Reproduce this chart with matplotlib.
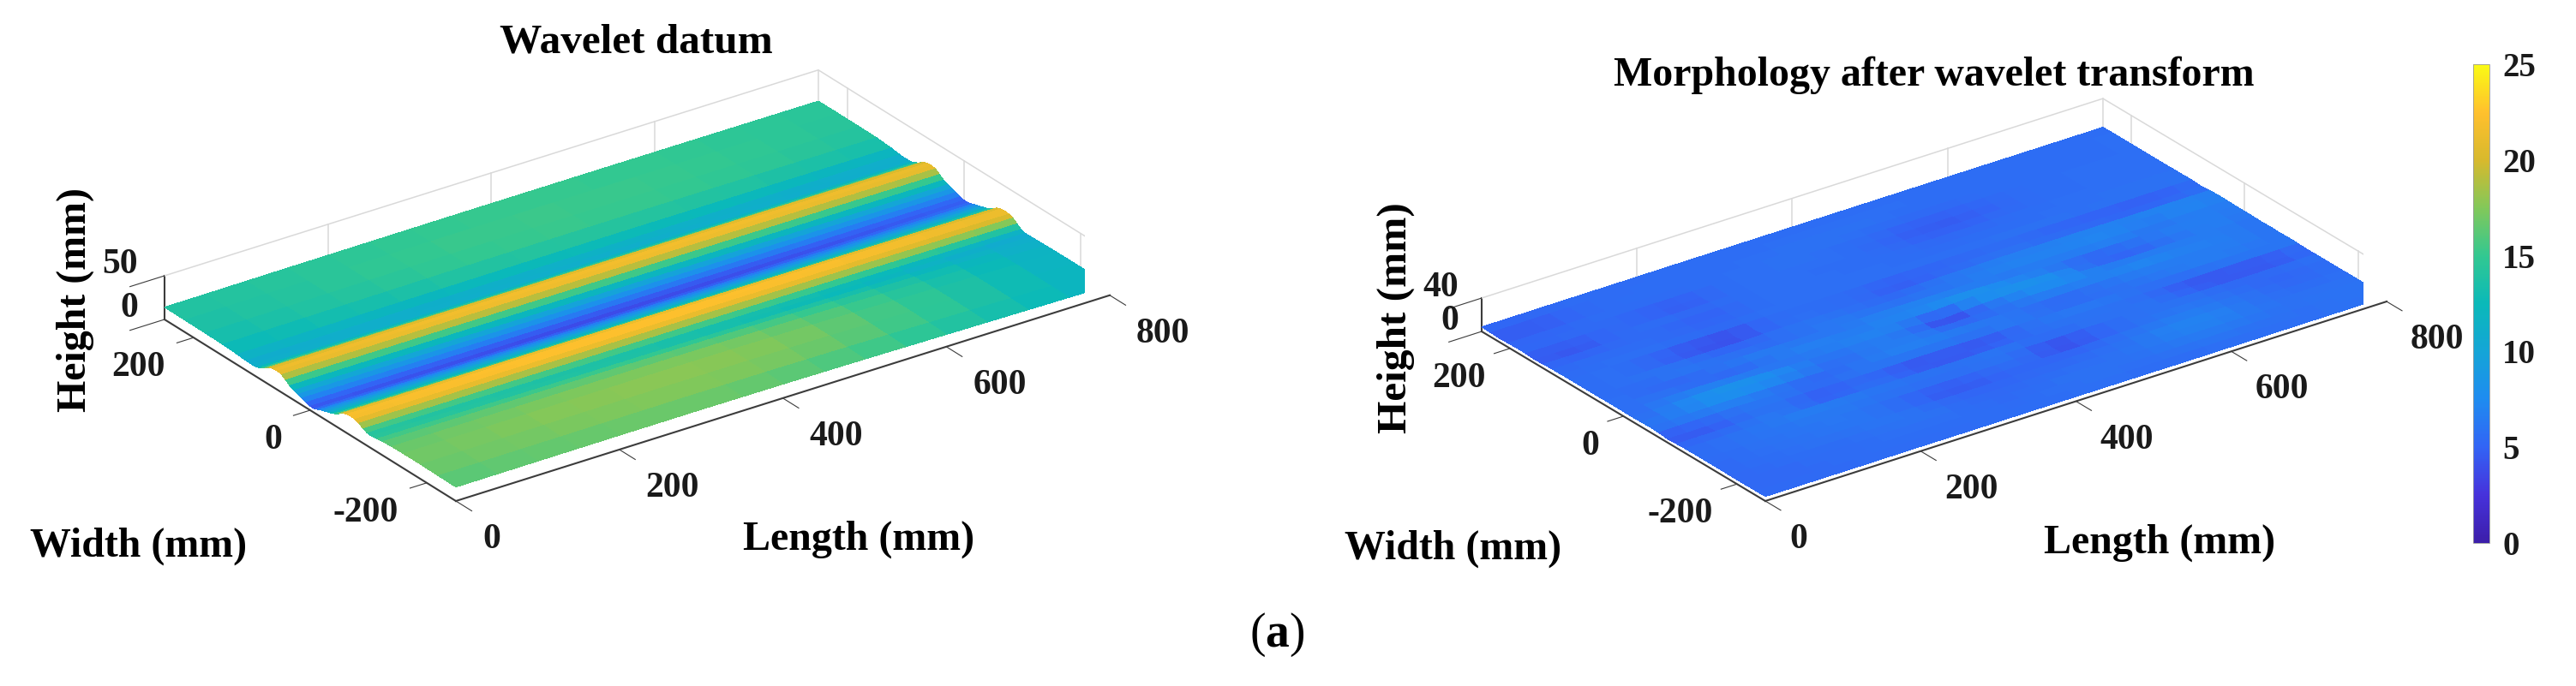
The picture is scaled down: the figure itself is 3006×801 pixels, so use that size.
import numpy as np
import matplotlib
matplotlib.use("Agg")
import matplotlib.pyplot as plt
from matplotlib.colors import LinearSegmentedColormap
from matplotlib.cm import ScalarMappable
from matplotlib.colors import Normalize
from mpl_toolkits.mplot3d import proj3d

FW, FH = 3006, 801
plt.rcParams['font.family'] = ['Liberation Serif', 'DejaVu Serif']
plt.rcParams['font.weight'] = 'bold'
plt.rcParams['mathtext.fontset'] = 'custom'
plt.rcParams['mathtext.bf'] = 'Liberation Serif:bold'
plt.rcParams['mathtext.rm'] = 'Liberation Serif'

# ------------------------------------------------------------ data
cbar_ticks = [0, 5, 10, 15, 20, 25]
length_ticks = [0, 200, 400, 600, 800]
width_ticks = [-200, 0, 200]
left_height_ticks = [0, 50]
right_height_ticks = [0, 40]

cmap_colors = ['#3c1eaa', '#4632dc', '#3264f5', '#1e8cf0', '#14a5d7', '#0ab9b9',
               '#32c891', '#82c85a', '#d7b92d', '#ffc02d', '#fafa14']

left_length_mm = [0, 50, 100, 150, 200, 250, 300, 350, 400, 450, 500, 550, 600, 650, 700, 750, 800]
left_width_mm = [-250, -220, -190, -160, -140, -125, -115, -105, -98, -91, -84, -77, -70, -63, -56,
                 -49, -42, -35, -28, -21, -14, -7, 0, 7, 14, 21, 28, 35, 42, 49, 56, 63, 70, 77, 84,
                 91, 100, 110, 125, 150, 180, 215, 250]
# one row per length station, one value per width station
left_height = [
    [16.0,16.4,16.8,16.8,16.5,16.0,15.0,14.0, 14.5,16.5,20.0,21.6,22.2,21.7,20.0,16.4,13.5, 11.5,10.0,8.5,6.5,4.5,4.5,6.0,8.0,9.5,11.0, 13.5,17.0,20.4,21.6,21.2,19.8,16.3,13.5,11.5, 10.8,11.0,12.0,13.0,13.5,13.8,14.0],
    [16.1,16.6,17.0,17.0,16.6,16.0,14.9,13.8, 14.4,16.6,20.1,21.7,22.3,21.8,20.1,16.4,13.4, 11.4,9.9,8.3,6.3,4.3,4.3,5.9,7.9,9.4,11.0, 13.5,17.1,20.5,21.7,21.3,19.8,16.2,13.4,11.4, 10.8,11.1,12.2,13.3,13.7,14.0,14.1],
    [16.2,16.8,17.2,17.2,16.8,16.0,14.8,13.6, 14.3,16.7,20.2,21.8,22.4,21.9,20.2,16.4,13.4, 11.4,9.8,8.2,6.2,4.2,4.2,5.8,7.8,9.4,11.0, 13.6,17.2,20.6,21.7,21.3,19.8,16.1,13.2,11.3, 10.8,11.2,12.4,13.6,14.0,14.2,14.3],
    [16.3,16.9,17.4,17.4,16.9,16.0,14.7,13.5, 14.2,16.8,20.3,21.9,22.5,22.0,20.3,16.4,13.3, 11.3,9.7,8.1,6.1,4.1,4.1,5.7,7.7,9.3,10.9, 13.6,17.2,20.7,21.8,21.4,19.8,16.0,13.1,11.2, 10.9,11.3,12.6,13.9,14.3,14.4,14.5],
    [16.4,17.0,17.6,17.6,17.0,16.0,14.6,13.4, 14.2,16.9,20.4,22.0,22.6,22.1,20.4,16.4,13.2, 11.2,9.6,8.0,6.0,4.0,4.0,5.6,7.6,9.2,10.9, 13.6,17.3,20.8,21.8,21.4,19.8,16.0,13.1,11.2, 10.9,11.4,12.8,14.2,14.6,14.7,14.6],
    [16.4,17.1,17.7,17.7,17.0,15.9,14.5,13.3, 14.1,16.9,20.4,22.0,22.6,22.1,20.4,16.4,13.2, 11.2,9.5,7.9,5.9,3.9,3.9,5.5,7.5,9.1,10.8, 13.6,17.3,20.9,21.9,21.5,19.8,15.9,13.0,11.1, 11.0,11.5,13.0,14.5,14.9,14.9,14.7],
    [16.4,17.2,17.8,17.8,17.0,15.8,14.4,13.2, 14.1,16.9,20.4,22.0,22.6,22.1,20.4,16.3,13.1, 11.1,9.4,7.8,5.8,3.8,3.8,5.4,7.4,9.0,10.8, 13.5,17.3,20.9,21.9,21.5,19.8,15.9,13.0,11.1, 11.0,11.6,13.2,14.8,15.1,15.1,14.8],
    [16.2,17.1,17.7,17.7,16.9,15.6,14.2,13.0, 14.0,16.8,20.4,22.0,22.6,22.1,20.4,16.3,13.0, 11.0,9.3,7.7,5.7,3.8,3.8,5.4,7.3,8.9,10.7, 13.5,17.3,20.9,21.9,21.5,19.8,15.9,13.0,11.1, 11.0,11.7,13.3,14.9,15.2,15.2,14.9],
    [16.0,17.0,17.6,17.6,16.8,15.4,14.0,12.9, 14.0,16.8,20.4,22.0,22.6,22.1,20.4,16.2,13.0, 11.0,9.3,7.7,5.7,3.8,3.8,5.3,7.3,8.9,10.7, 13.4,17.3,20.9,21.9,21.5,19.8,15.9,13.0,11.1, 11.1,11.8,13.4,15.0,15.3,15.2,14.9],
    [15.6,16.6,17.2,17.2,16.4,15.1,13.7,12.7, 13.9,16.7,20.3,22.0,22.6,22.0,20.3,16.2,12.9, 11.0,9.2,7.6,5.7,3.8,3.8,5.3,7.3,8.9,10.7, 13.4,17.3,20.9,21.9,21.5,19.8,15.9,13.0,11.1, 11.1,11.8,13.4,15.0,15.3,15.2,14.9],
    [15.2,16.2,16.8,16.8,16.0,14.8,13.4,12.5, 13.8,16.7,20.3,21.9,22.5,22.0,20.3,16.1,12.9, 10.9,9.2,7.6,5.7,3.9,3.9,5.3,7.3,8.9,10.7, 13.4,17.2,20.9,21.9,21.5,19.8,15.9,13.0,11.1, 11.1,11.8,13.4,15.0,15.2,15.2,14.9],
    [14.6,15.5,16.0,15.9,15.3,14.2,13.0,12.2, 13.6,16.6,20.2,21.8,22.4,21.9,20.2,16.0,12.8, 10.9,9.2,7.6,5.7,4.0,4.0,5.3,7.3,8.9,10.7, 13.4,17.2,20.8,21.8,21.5,19.8,15.9,13.0,11.1, 11.0,11.7,13.3,14.9,15.1,15.1,14.9],
    [14.0,14.8,15.2,15.0,14.6,13.6,12.6,11.9, 13.4,16.5,20.1,21.7,22.3,21.8,20.1,15.9,12.8, 10.9,9.2,7.6,5.8,4.1,4.1,5.4,7.4,9.0,10.8, 13.4,17.2,20.8,21.8,21.4,19.8,15.9,13.0,11.1, 11.0,11.6,13.2,14.8,15.0,15.0,14.8],
    [13.4,14.0,14.3,14.1,13.7,12.9,12.1,11.5, 13.1,16.3,19.9,21.5,22.1,21.6,19.9,15.7,12.7, 10.9,9.2,7.7,5.9,4.2,4.2,5.5,7.5,9.1,10.8, 13.4,17.1,20.7,21.7,21.3,19.7,15.8,13.0,11.1, 11.0,11.5,13.1,14.6,14.9,14.9,14.7],
    [12.8,13.2,13.4,13.2,12.8,12.2,11.6,11.2, 12.8,16.1,19.7,21.3,21.9,21.4,19.7,15.5,12.7, 10.9,9.3,7.8,6.0,4.4,4.4,5.6,7.6,9.2,10.9, 13.4,17.0,20.6,21.6,21.2,19.6,15.8,13.0,11.1, 10.9,11.4,12.9,14.4,14.7,14.7,14.6],
    [12.2,12.4,12.4,12.3,12.0,11.5,11.1,10.9, 12.5,15.8,19.5,21.1,21.7,21.2,19.5,15.3,12.6, 10.9,9.3,7.9,6.1,4.6,4.6,5.7,7.7,9.3,10.9, 13.4,16.9,20.5,21.5,21.1,19.5,15.7,13.0,11.1, 10.9,11.3,12.8,14.2,14.5,14.6,14.5],
    [11.6,11.6,11.5,11.4,11.2,10.9,10.7,10.6, 12.2,15.6,19.3,20.9,21.5,21.0,19.3,15.2,12.6, 10.9,9.4,8.0,6.2,4.8,4.8,5.9,7.9,9.4,11.0, 13.3,16.8,20.4,21.4,21.0,19.4,15.6,13.0,11.1, 10.8,11.2,12.6,14.0,14.3,14.4,14.4],
]

right_length_mm = [0, 25, 50, 75, 100, 125, 150, 175, 200, 225, 250, 275, 300, 325, 350, 375, 400,
                   425, 450, 475, 500, 525, 550, 575, 600, 625, 650, 675, 700, 725, 750, 775, 800]
right_width_mm = [-250, -234, -219, -203, -188, -172, -156, -141, -125, -109, -94, -78, -62, -47, -31, -16,
                  0, 16, 31, 47, 62, 78, 94, 109, 125, 141, 156, 172, 188, 203, 219, 234, 250]
# one row per width station, one value per length station
right_height = [
    [5.5,5.4,5.4,5.4,5.4,5.4,5.5,5.5,5.6,5.5,5.5,5.5,5.5,5.6,5.6,5.6,5.7,5.6,5.6,5.6,5.6,5.5,5.5,5.5,5.6,5.6,5.7,5.7,5.8,5.8,5.8,5.8,5.9],
    [5.4,5.4,5.3,5.4,5.4,5.5,5.6,5.5,5.5,5.5,5.6,5.6,5.7,5.6,5.6,5.6,5.7,5.7,5.8,5.7,5.6,5.6,5.7,5.8,5.9,5.8,5.8,5.7,5.7,5.7,5.8,5.9,6.0],
    [5.3,5.3,5.2,5.3,5.5,5.5,5.6,5.6,5.7,5.6,5.6,5.6,5.6,5.5,5.5,5.6,5.8,5.8,5.9,5.8,5.7,5.8,6.0,6.1,6.2,6.1,6.0,5.9,5.8,5.8,5.9,5.9,6.0],
    [5.2,5.3,5.4,5.5,5.6,5.5,5.5,5.7,5.8,5.9,5.9,5.7,5.5,5.4,5.4,5.5,5.7,5.8,5.8,5.9,5.9,6.1,6.4,6.6,6.8,6.6,6.3,6.1,5.9,5.9,5.9,5.9,5.9],
    [5.3,5.4,5.5,5.6,5.7,5.7,5.8,5.9,6.0,6.0,5.9,5.6,5.4,5.3,5.3,5.4,5.5,5.5,5.6,5.7,5.9,6.2,6.6,6.9,7.0,6.9,6.6,6.2,5.8,5.8,5.8,5.8,5.8],
    [5.4,5.5,5.6,5.7,5.8,5.9,6.0,6.1,6.2,6.0,5.8,5.3,5.0,5.0,5.0,5.1,5.2,5.3,5.4,5.5,5.7,6.0,6.4,6.7,6.8,6.7,6.4,6.0,5.7,5.5,5.4,5.6,5.7],
    [5.4,5.5,5.7,5.8,5.9,6.0,6.2,6.1,6.0,5.6,5.2,4.6,4.1,4.3,4.8,5.2,5.4,5.1,4.8,5.0,5.4,5.7,6.0,6.2,6.4,6.4,6.2,5.9,5.6,5.3,5.1,5.4,5.6],
    [5.5,5.6,5.8,5.9,6.0,6.1,6.3,6.2,6.1,5.9,5.6,5.5,5.4,5.4,5.5,5.7,5.8,4.8,3.7,3.6,4.4,5.1,5.6,5.8,6.0,5.9,5.8,5.5,5.3,5.2,5.2,5.5,5.7],
    [5.5,5.7,5.9,6.0,6.2,6.3,6.4,6.4,6.3,6.1,6.0,6.0,6.0,6.0,6.1,6.1,6.0,5.5,5.0,5.2,5.6,5.8,6.0,6.0,6.0,5.8,5.6,5.5,5.4,5.5,5.6,5.7,5.8],
    [5.3,5.5,5.7,6.0,6.3,6.5,6.6,6.5,6.4,6.3,6.2,6.0,5.8,5.7,5.6,5.8,6.0,6.0,5.9,5.9,5.9,5.8,5.7,5.7,5.8,5.0,4.2,3.6,3.6,3.5,3.6,3.9,5.4],
    [5.0,5.0,5.0,5.5,5.9,6.0,5.0,3.8,3.6,4.6,5.2,4.6,3.7,3.4,3.4,3.5,3.6,4.4,5.2,5.7,6.0,6.0,6.0,5.8,5.4,5.2,5.0,5.3,5.6,5.7,5.8,5.9,6.0],
    [4.3,4.2,4.4,5.0,5.7,6.2,6.6,6.3,6.0,5.8,5.6,5.6,5.5,5.7,5.9,5.7,5.4,5.7,6.0,6.2,6.4,6.4,6.4,6.3,6.2,6.2,6.3,6.4,6.4,6.4,6.4,6.3,6.2],
    [5.6,5.8,6.0,6.2,6.4,6.0,5.6,5.1,4.8,5.5,6.2,6.5,6.6,6.5,6.4,6.3,6.2,6.4,6.6,5.8,5.0,4.8,4.8,5.2,5.6,6.0,6.4,6.5,6.6,6.4,6.2,6.0,5.8],
    [6.0,6.3,6.6,6.9,7.2,7.0,6.8,6.4,6.0,5.5,5.2,6.0,6.6,6.9,7.0,6.7,6.4,6.1,5.8,5.9,6.0,6.3,6.6,6.8,7.0,6.8,6.6,6.5,6.4,6.6,6.8,6.5,6.2],
    [5.7,6.3,7.0,7.9,8.6,8.4,8.0,7.6,7.2,6.4,5.8,6.1,6.4,6.2,6.0,5.0,4.0,4.8,5.6,6.3,7.0,6.8,6.6,6.6,6.6,7.2,7.6,7.4,7.0,6.6,6.2,6.0,5.8],
    [5.4,6.0,6.6,7.1,7.6,7.8,7.8,7.2,6.6,6.3,6.0,6.4,6.8,6.6,6.4,5.0,3.4,4.8,6.2,7.0,7.8,8.1,8.2,7.4,6.4,5.8,5.4,5.7,6.0,6.4,6.8,6.5,6.2],
    [5.6,5.9,6.2,6.2,6.2,5.7,5.2,5.4,5.6,6.3,7.0,7.0,7.0,7.0,7.0,6.8,6.6,7.6,8.8,8.6,8.2,7.6,7.0,5.6,4.4,4.5,4.8,5.4,6.0,6.3,6.6,6.4,6.2],
    [5.8,5.7,5.6,5.2,4.8,5.2,5.6,6.2,6.8,6.7,6.6,6.3,6.0,6.5,7.0,7.3,7.6,7.6,7.4,6.8,6.2,6.2,6.2,6.3,6.4,6.5,6.6,6.7,6.8,6.8,6.8,6.6,6.4],
    [5.7,5.5,5.4,5.6,5.8,6.1,6.4,6.3,6.2,6.0,5.8,6.1,6.4,6.5,6.6,6.4,6.2,6.1,6.0,6.3,6.6,6.7,6.8,6.7,6.6,6.7,6.8,6.2,5.6,6.0,6.4,6.5,6.6],
    [5.6,5.6,5.6,5.9,6.2,5.8,5.4,5.2,5.0,5.4,5.8,6.0,6.2,5.9,5.6,5.6,5.6,6.0,6.4,6.6,6.8,6.9,7.0,7.1,7.3,7.4,7.4,7.4,7.4,7.5,7.6,7.3,6.8],
    [5.6,5.7,5.8,5.8,5.7,5.5,5.3,5.1,5.2,5.6,6.0,5.9,5.8,5.7,5.6,5.4,5.2,5.5,5.8,6.0,6.2,6.3,6.4,6.4,6.4,6.4,6.4,6.3,6.2,6.3,6.4,6.3,6.2],
    [5.6,5.7,5.8,5.2,4.6,3.9,3.4,3.2,3.2,4.2,5.2,5.4,5.6,5.5,5.4,4.8,4.2,4.4,4.6,4.8,5.0,5.2,5.4,5.0,4.7,4.5,4.4,4.3,4.2,4.1,4.0,4.4,5.4],
    [5.6,5.6,5.7,5.8,5.8,5.7,5.6,5.4,5.2,5.4,5.6,5.7,5.7,5.7,5.6,5.7,5.8,5.8,5.8,5.8,5.8,5.8,5.8,5.9,5.9,5.9,5.8,5.8,5.8,5.8,5.9,5.9,6.0],
    [5.5,5.5,5.6,5.6,5.6,5.6,5.6,5.6,5.6,5.6,5.7,5.7,5.7,5.7,5.8,5.7,5.7,5.7,5.7,5.6,5.6,5.6,5.7,5.7,5.7,5.7,5.7,5.7,5.8,5.8,5.8,5.8,5.9],
    [5.4,5.4,5.4,5.4,5.5,5.4,5.2,4.8,4.6,5.0,5.4,5.6,5.7,5.7,5.7,5.7,5.7,5.6,5.6,5.5,5.5,5.5,5.6,5.6,5.6,5.6,5.7,5.7,5.7,5.8,5.8,5.8,5.8],
    [5.0,4.8,4.6,5.0,5.4,5.5,5.6,5.4,5.2,5.4,5.6,5.7,5.7,5.7,5.7,5.6,5.6,5.6,5.5,5.3,5.2,5.2,5.2,5.4,5.5,5.6,5.6,5.7,5.7,5.7,5.7,5.7,5.7],
    [4.4,4.2,4.2,4.7,5.3,5.5,5.6,5.4,5.2,5.4,5.6,5.7,5.7,5.7,5.7,5.6,5.6,5.5,5.3,5.0,4.8,4.7,4.7,5.0,5.2,5.4,5.6,5.6,5.6,5.7,5.7,5.7,5.7],
    [5.2,5.2,5.2,5.3,5.4,5.1,4.8,4.4,4.4,4.9,5.4,5.6,5.7,5.8,5.8,5.8,5.7,5.5,5.3,4.9,4.7,4.6,4.6,4.9,5.1,5.4,5.6,5.7,5.7,5.7,5.7,5.7,5.7],
    [5.3,5.3,5.3,5.4,5.5,5.5,5.4,5.4,5.4,5.5,5.6,5.7,5.7,5.8,5.8,5.8,5.7,5.6,5.6,5.4,5.2,5.2,5.2,5.4,5.5,5.6,5.6,5.6,5.6,5.7,5.7,5.7,5.7],
    [5.0,5.0,5.0,5.2,5.4,5.5,5.6,5.6,5.6,5.6,5.6,5.7,5.7,5.8,5.8,5.9,5.9,5.9,5.8,5.7,5.6,5.6,5.6,5.6,5.6,5.6,5.6,5.6,5.6,5.6,5.6,5.6,5.7],
    [4.5,4.4,4.4,4.7,5.2,5.4,5.5,5.6,5.6,5.6,5.6,5.6,5.6,5.7,5.7,5.8,5.8,5.8,5.8,5.8,5.7,5.7,5.7,5.7,5.7,5.7,5.6,5.6,5.6,5.6,5.7,5.7,5.7],
    [5.0,5.0,5.0,5.2,5.4,5.5,5.5,5.6,5.6,5.6,5.6,5.6,5.6,5.6,5.6,5.7,5.7,5.7,5.7,5.7,5.7,5.6,5.6,5.6,5.6,5.6,5.6,5.6,5.6,5.6,5.6,5.6,5.7],
    [5.4,5.4,5.4,5.5,5.5,5.5,5.5,5.5,5.5,5.6,5.6,5.6,5.6,5.6,5.6,5.6,5.6,5.6,5.6,5.6,5.6,5.6,5.6,5.6,5.6,5.6,5.6,5.6,5.6,5.6,5.6,5.6,5.6],
]

TICK_FS = 30
LABEL_FS = 34.5
CBAR_FS = 28
AXIS_COLOR = '#3c3c3c'
GRID_COLOR = '#d9d9d9'

cmap = LinearSegmentedColormap.from_list('parula_like', cmap_colors)
fig = plt.figure(figsize=(FW / 100, FH / 100), dpi=100, facecolor='white')


def fig_text(px, py, s, size, **kw):
    return fig.text(px / FW, 1 - py / FH, s, fontsize=size, ha=kw.pop('ha', 'center'),
                    va=kw.pop('va', 'center'), **kw)


def surface_panel(length, width, height, elev, azim, box, zmax, zticks, front_px, right_px,
                  xf, yf, zf, xlab_off, ylab_off, zlab_off):
    ax = fig.add_axes([0, 0, 0.5, 0.5], projection='3d', proj_type='ortho')
    ax.set_facecolor('none')
    ax.computed_zorder = False
    ax.view_init(elev=elev, azim=azim)
    ax.set_box_aspect(box)
    ax.set_xlim(0, 800, view_margin=0)
    ax.set_ylim(-250, 250, view_margin=0)
    ax.set_zlim(0, zmax, view_margin=0)

    # place the 3D box so that its floor edge lands on the pixels measured in the reference
    M = ax.get_proj()
    fx, fy, _ = proj3d.proj_transform(0, -250, 0, M)
    rx, ry, _ = proj3d.proj_transform(800, -250, 0, M)
    S = 1000.0
    ax.set_position([0, 0, S / FW, S / FH])
    a = ax.transData.transform([(fx, fy), (rx, ry)])
    S *= (right_px[0] - front_px[0]) / (a[1, 0] - a[0, 0])
    ax.set_position([0, 0, S / FW, S / FH])
    a = ax.transData.transform([(fx, fy)])[0]
    ax.set_position([(front_px[0] - a[0]) / FW, ((FH - front_px[1]) - a[1]) / FH, S / FW, S / FH])

    ax.grid(False)
    ax.xaxis.set_pane_color((1, 1, 1, 0))
    ax.yaxis.set_pane_color((1, 1, 1, 0))
    ax.zaxis.set_pane_color((1, 1, 1, 0))
    for axis, f in ((ax.xaxis, xf), (ax.yaxis, yf), (ax.zaxis, zf)):
        axis.pane.set_edgecolor('none')
        axis.line.set_color(AXIS_COLOR)
        axis.line.set_linewidth(1.5)
        axis._axinfo['tick']['inward_factor'] = f
        axis._axinfo['tick']['outward_factor'] = 0.0
    ax.set_xticks(length_ticks, labels=[''] * len(length_ticks))
    ax.set_yticks(width_ticks, labels=[''] * len(width_ticks))
    ax.set_zticks(zticks, labels=[''] * len(zticks))
    ax.tick_params(axis='both', color=AXIS_COLOR, width=1.5)
    ax.tick_params(axis='z', color=AXIS_COLOR, width=1.5)
    ax.zaxis.set_ticks_position('upper')

    # light grid on the two back walls only, as in the reference
    for t in length_ticks[1:]:
        ax.plot([t, t], [250, 250], [0, zmax], color=GRID_COLOR, lw=1.1, zorder=0)
    for t in width_ticks:
        ax.plot([800, 800], [t, t], [0, zmax], color=GRID_COLOR, lw=1.1, zorder=0)
    ax.plot([0, 800, 800], [250, 250, -250], [zmax, zmax, zmax], color=GRID_COLOR, lw=1.1, zorder=0)

    X, Y = np.meshgrid(length, width)
    ax.plot_surface(X, Y, height, cmap=cmap, vmin=0, vmax=25, rstride=1, cstride=1,
                    linewidth=0, antialiased=False, shade=False, zorder=1)

    def tick_label(x, y, z, s, dx, dy, ha):
        px, py, _ = proj3d.proj_transform(x, y, z, M)
        ax.annotate(s, xy=(px, py), xycoords='data', xytext=(dx * 0.72, -dy * 0.72), textcoords='offset points',
                    ha=ha, va='center', fontsize=TICK_FS, annotation_clip=False, color='#1a1a1a')

    for t in length_ticks:
        tick_label(t, -250, 0, str(t), xlab_off[0], xlab_off[1], 'left')
    for t in width_ticks:
        tick_label(0, t, 0, str(t), ylab_off[0], ylab_off[1], 'right')
    for t in zticks:
        tick_label(0, 250, t, str(t), zlab_off[0], zlab_off[1], 'right')
    return ax


surface_panel(left_length_mm, left_width_mm, np.array(left_height, dtype=float).T,
              26.3, -125.4, (936, 587, 56.9), 50, left_height_ticks, (532, 585), (1295, 345),
              0.68, 0.32, 0.66, (31, 45), (-33, 35), (-31, -13))
surface_panel(right_length_mm, right_width_mm, np.array(right_height, dtype=float),
              26.0, -126.24, (899, 560, 43.4), 40, right_height_ticks, (2060, 585), (2785, 352),
              0.68, 0.32, 0.66, (28, 45), (-28, 35), (-27, -12))

fig_text(742, 50, 'Wavelet datum', 35.5)
fig_text(1002, 630, 'Length (mm)', LABEL_FS)
fig_text(162, 638, 'Width (mm)', LABEL_FS)
fig_text(88, 350, 'Height (mm)', LABEL_FS, rotation=90)

fig_text(2257, 88, 'Morphology after wavelet transform', 34.5)
fig_text(2520, 634, 'Length (mm)', LABEL_FS)
fig_text(1696, 641, 'Width (mm)', LABEL_FS)
fig_text(1629, 371, 'Height (mm)', LABEL_FS + 1, rotation=90)

fig_text(1490, 741, r'($\mathbf{a}$)', 40, fontweight='normal')

cax = fig.add_axes([2886 / FW, 1 - 634 / FH, 19 / FW, 559 / FH])
cb = fig.colorbar(ScalarMappable(Normalize(0, 25), cmap), cax=cax, ticks=cbar_ticks)
cb.ax.tick_params(length=0, pad=11, labelsize=CBAR_FS, labelcolor='#1a1a1a')
cb.outline.set_edgecolor('#9a9a9a')
cb.outline.set_linewidth(0.6)

fig.savefig('out.png', dpi=100, facecolor='white')
